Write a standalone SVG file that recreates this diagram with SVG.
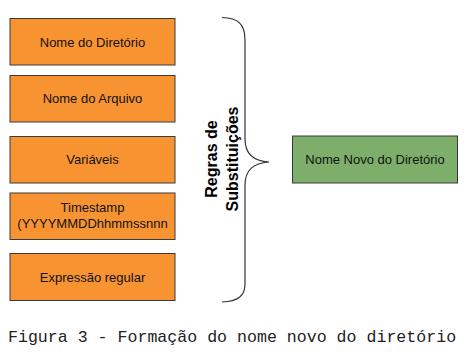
<svg xmlns="http://www.w3.org/2000/svg" width="472" height="355" viewBox="0 0 472 355">
<style>
.src rect{fill:#f79431;stroke:#3a3a3a;stroke-width:1}
.dst rect{fill:#7daf6b;stroke:#3a3a3a;stroke-width:1}
.lbl{font-family:"Liberation Sans",Arial,sans-serif;font-size:13px;fill:#111;text-anchor:middle}
.brace{fill:none;stroke:#333;stroke-width:1.2}
.rot{font-family:"Liberation Sans",Arial,sans-serif;font-size:16px;font-weight:bold;fill:#000;text-anchor:middle}
.cap{font-family:"Liberation Mono","Courier New",monospace;font-size:16.6px;fill:#222}
</style>
<rect width="472" height="355" fill="#fff"/>
<g id="n1" class="src"><rect x="10" y="18.5" width="165" height="46.5"/><text class="lbl" x="92.5" y="46.5">Nome do Diretório</text></g>
<g id="n2" class="src"><rect x="10" y="75.5" width="165" height="46.5"/><text class="lbl" x="92.5" y="103">Nome do Arquivo</text></g>
<g id="n3" class="src"><rect x="10" y="136.5" width="165" height="46.5"/><text class="lbl" x="92.5" y="164">Variáveis</text></g>
<g id="n4" class="src"><rect x="10" y="193" width="165" height="46.5"/><text class="lbl" x="92.5" y="211.5">Timestamp</text><text class="lbl" x="92.5" y="227.5">(YYYYMMDDhhmmssnnn</text></g>
<g id="n5" class="src"><rect x="10" y="253.5" width="165" height="47"/><text class="lbl" x="92.5" y="281.5">Expressão regular</text></g>
<g id="n6" class="dst"><rect x="292.5" y="136" width="165" height="47"/><text class="lbl" x="375" y="164">Nome Novo do Diretório</text></g>
<g id="connectors">
<path class="brace" d="M222,17.5 C238,18 245,24 245,40 L245,139 C245,153 252,161 269,162 C252,163 245,171 245,185 L245,284 C245,296 238,301.5 222,302"/>
</g>
<g id="label" transform="translate(0,159) rotate(-90)">
<text class="rot" x="0" y="217">Regras de</text>
<text class="rot" x="0" y="237.5">Substituições</text>
</g>
<text class="cap" x="8" y="341.5">Figura 3 - Formação do nome novo do diretório</text>
</svg>
